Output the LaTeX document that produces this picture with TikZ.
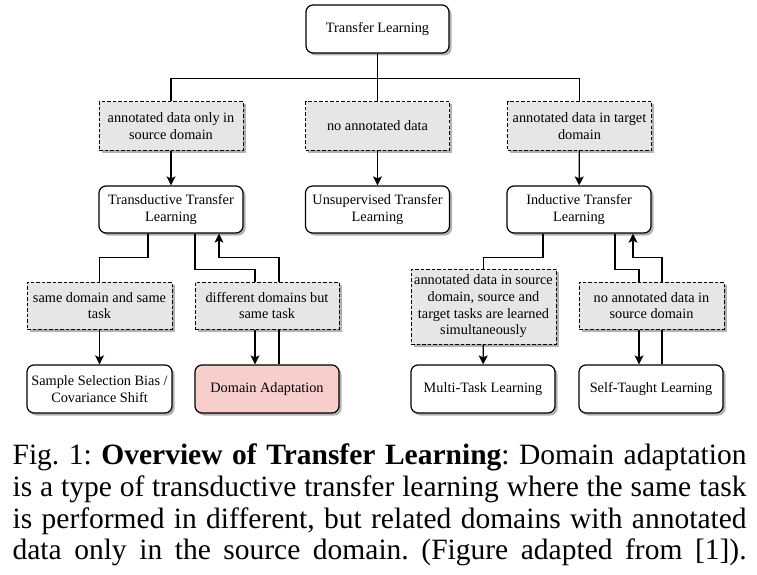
\documentclass[tikz,border=0pt]{standalone}
\usepackage{fontspec}
\setmainfont{Liberation Serif}
\usepackage{xcolor}
\usetikzlibrary{arrows.meta, shadows}

\definecolor{condgrey}{HTML}{E6E6E6}
\definecolor{dapink}{HTML}{F8CECC}
\newcommand{\diagfont}{\fontsize{14.3}{16.7}\selectfont}
\newcommand{\capfont}{\fontsize{29.5}{31.7}\selectfont}
\frenchspacing

\begin{document}
\begin{tikzpicture}[x=1pt, y=-1pt,
			>={Stealth[length=9pt, width=9pt, inset=2pt]},
			line width=1.2pt,
			tlbox/.style={draw=black, fill=white, rounded corners=7pt,
				minimum width=144pt, minimum height=48pt, inner sep=2pt,
				align=center, font=\diagfont,
				drop shadow={shadow xshift=2.5pt, shadow yshift=-2.5pt, fill=black!30, opacity=1}},
			condbox/.style={tlbox, sharp corners, fill=condgrey, line width=1pt, dash pattern=on 3.5pt off 2pt}]

			\useasboundingbox (0,0) rectangle (757,575);

			\node (tl) [tlbox, minimum width=143pt] at (377.5,29) {Transfer Learning};

			\node (c1) [condbox] at (171,126) {annotated data only in\\source domain};
			\node (c2) [condbox] at (377.5,126) {no annotated data};
			\node (c3) [condbox] at (579.5,126) {annotated data in target\\domain};

			\node (tt) [tlbox, minimum height=47pt] at (171,209.5) {Transductive Transfer\\Learning};
			\node (ut) [tlbox, minimum height=47pt] at (377.5,209.5) {Unsupervised Transfer\\Learning};
			\node (it) [tlbox, minimum height=47pt] at (579,209.5) {Inductive Transfer\\Learning};

			\node (c4) [condbox, minimum width=145pt, minimum height=47pt] at (99.5,305.5) {same domain and same\\task};
			\node (c5) [condbox, minimum height=47pt] at (267,305.5) {different domains but\\same task};
			\node (c6) [condbox, minimum width=145pt, minimum height=75pt] at (483.5,306.5) {annotated data in source\\domain, source and\\target tasks are learned\\simultaneously};
			\node (c7) [condbox, minimum width=145pt, minimum height=47pt] at (651.5,305.5) {no annotated data in\\source domain};

			\node (ssb) [tlbox, minimum width=145pt] at (99.5,389) {Sample Selection Bias /\\Covariance Shift};
			\node (da) [tlbox, fill=dapink] at (267,389) {Domain Adaptation};
			\node (mtl) [tlbox] at (483,389) {Multi-Task Learning};
			\node (stl) [tlbox] at (651,389) {Self-Taught Learning};

			\draw (tl.south) -- ++(0,25) -| (c1.north);
			\draw (tl.south) -- ++(0,25) -| (c3.north);
			\draw (tl) -- (c2);
			\draw[->] (c1) -- (tt);
			\draw[->] (c2) -- (ut);
			\draw[->] (c3) -- (it);

			\draw ([xshift=-23pt]tt.south) -- ++(0,24) -| (c4.north);
			\draw[->] (c4) -- (ssb);
			\draw ([xshift=24pt]tt.south) -- ++(0,36) -| ([xshift=-12pt]c5.north);
			\draw[->] ([xshift=-12pt]c5.south) -- ([xshift=-12pt]da.north);
			\draw ([xshift=12pt]da.north) -- ([xshift=12pt]c5.south);
			\draw[->] ([xshift=12pt]c5.north) -- ++(0,-24) -| ([xshift=48pt]tt.south);

			\draw ([xshift=-36pt]it.south) -- ++(0,24) -| (c6.north);
			\draw[->] (c6) -- (mtl);
			\draw ([xshift=36pt]it.south) -- ++(0,36) -| ([xshift=-12.5pt]c7.north);
			\draw[->] ([xshift=-12.5pt]c7.south) -- ([xshift=-12pt]stl.north);
			\draw ([xshift=11pt]stl.north) -- ([xshift=10.5pt]c7.south);
			\draw[->] ([xshift=10.5pt]c7.north) -- ++(0,-24) -| ([xshift=54pt]it.south);

			\node (cap) [anchor=north west, text width=734pt, align=justify, inner sep=0pt, font=\capfont] at (12,443.5)
				{Fig. 1: \textbf{Overview of Transfer Learning}: Domain adaptation is a type of transductive transfer learning where the same task is performed in different, but related domains with annotated data only in the source domain. (Figure adapted from [1]).\parfillskip=0pt\par};
		\end{tikzpicture}
\end{document}
